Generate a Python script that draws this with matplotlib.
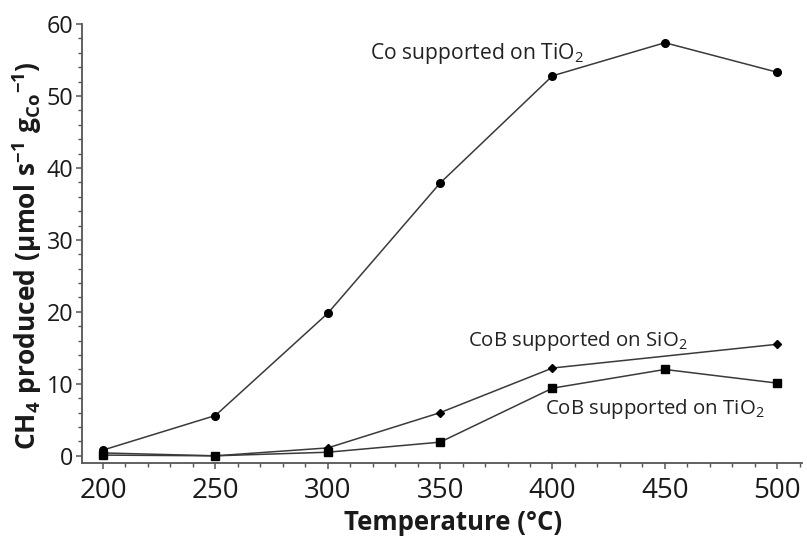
import matplotlib
matplotlib.use("Agg")
import matplotlib.pyplot as plt
from matplotlib.ticker import MultipleLocator

plt.rcParams['font.family'] = ['Open Sans', 'DejaVu Sans']
plt.rcParams['mathtext.fontset'] = 'custom'
plt.rcParams['mathtext.rm'] = 'Open Sans'
plt.rcParams['mathtext.it'] = 'Open Sans'
plt.rcParams['mathtext.bf'] = 'Open Sans:bold'

temps = [200, 250, 300, 350, 400, 450, 500]
co_tio2 = [0.8, 5.6, 19.8, 37.9, 52.8, 57.4, 53.3]
cob_sio2_temps = [200, 250, 300, 350, 400, 500]
cob_sio2 = [0.4, 0.0, 1.1, 6.0, 12.2, 15.5]
cob_tio2 = [0.1, 0.0, 0.5, 1.9, 9.4, 12.0, 10.1]

label_co = r'Co supported on TiO$_2$'
label_cob_si = r'CoB supported on SiO$_2$'
label_cob_ti = r'CoB supported on TiO$_2$'

fig = plt.figure(figsize=(8.07, 5.43), dpi=100)
ax = fig.add_axes([0.1012, 0.1473, 0.892, 0.8085])

lc = '#3a3a3a'
ax.plot(temps, co_tio2, color=lc, lw=1.1, marker='o', ms=5.5, mfc='black', mec='black', zorder=3)
ax.plot(cob_sio2_temps, cob_sio2, color=lc, lw=1.1, marker='D', ms=4, mfc='black', mec='black', zorder=3)
ax.plot(temps, cob_tio2, color=lc, lw=1.1, marker='s', ms=5.8, mfc='black', mec='black', zorder=3)

ax.text(319.0, 55.2, label_co, fontsize=15.2, va='baseline', ha='left', color='#222222')
ax.text(362.4, 15.2, label_cob_si, fontsize=14.7, va='baseline', ha='left', color='#222222')
ax.text(396.6, 5.8, label_cob_ti, fontsize=14.7, va='baseline', ha='left', color='#222222')

ax.set_xlim(190.5, 510.8)
ax.set_ylim(-1.0, 60)
ax.xaxis.set_major_locator(MultipleLocator(50))
ax.xaxis.set_minor_locator(MultipleLocator(10))
ax.yaxis.set_major_locator(MultipleLocator(10))
ax.yaxis.set_minor_locator(MultipleLocator(2))

for s in ['top', 'right']:
    ax.spines[s].set_visible(False)
for s in ['left', 'bottom']:
    ax.spines[s].set_color('#555555')
    ax.spines[s].set_linewidth(1.3)

ax.tick_params(axis='both', which='major', direction='out', length=4, width=1.1, colors='#555555', labelcolor='#1a1a1a')
ax.tick_params(axis='both', which='minor', direction='out', length=3, width=1.0, colors='#555555')
ax.tick_params(axis='x', which='major', labelsize=20, pad=6)
ax.tick_params(axis='y', which='major', labelsize=16.8, pad=2)

ax.set_xlabel('Temperature (°C)', fontsize=18.5, fontweight='bold', color='#1a1a1a', labelpad=6)
ax.xaxis.set_label_coords(0.516, -0.105, transform=ax.transAxes)
ax.xaxis.label.set_va('top')
ax.set_ylabel(r'$\mathbf{CH_4\ produced\ (\mu mol\ s^{-1}\ g_{Co}}$$\mathbf{^{-1})}$',
              fontsize=19, color='#1a1a1a')
ax.yaxis.set_label_coords(-0.0755, 0.4715, transform=ax.transAxes)
ax.yaxis.label.set_va('center')

fig.savefig('out.png', dpi=100)
